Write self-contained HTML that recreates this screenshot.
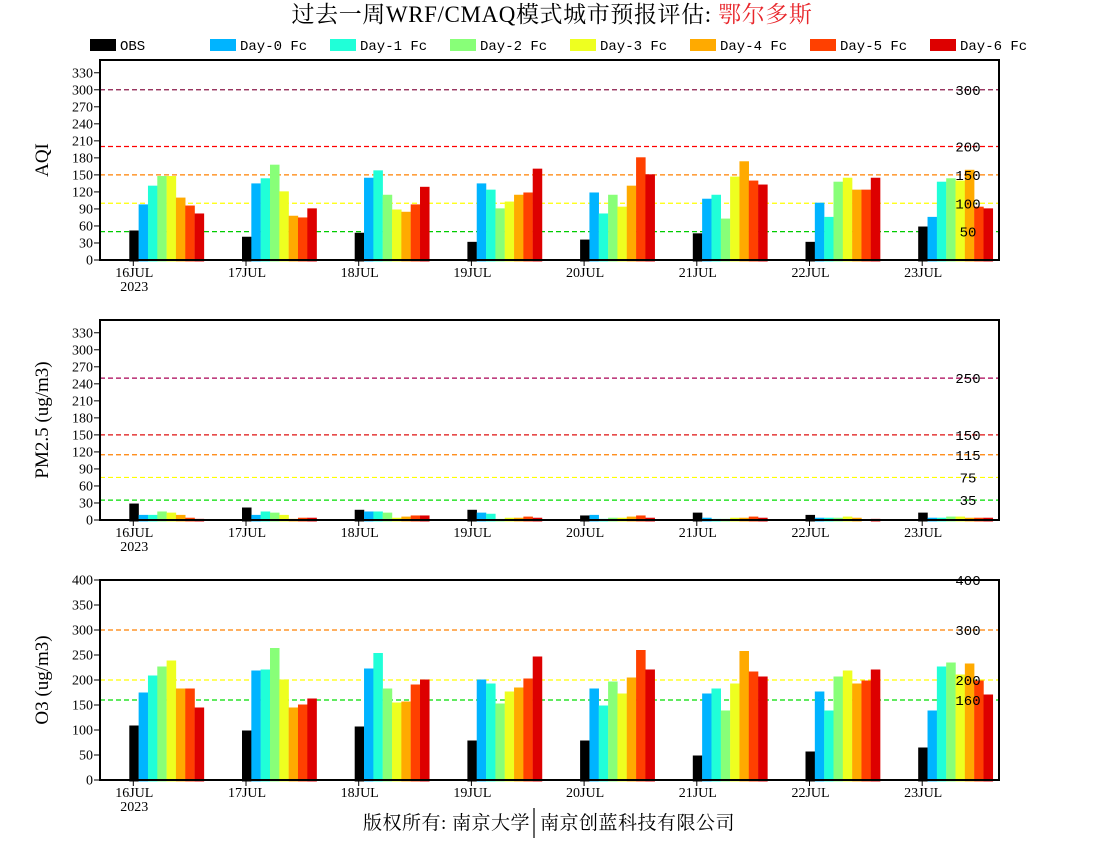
<!DOCTYPE html>
<html><head><meta charset="utf-8">
<style>
body{margin:0;background:#fff;}
svg{display:block;}
text{font-family:"Liberation Serif","Noto Serif CJK SC",serif;}
.mono{font-family:"Liberation Mono","Noto Sans CJK SC",monospace;}
</style></head>
<body>
<svg id="c" width="1100" height="850" xmlns="http://www.w3.org/2000/svg">
<text x="552" y="22" font-size="23" letter-spacing="0.6" text-anchor="middle">过去一周WRF/CMAQ模式城市预报评估: <tspan fill="#e8262b">鄂尔多斯</tspan></text>
<text x="530" y="829" font-size="19" letter-spacing="0.5" text-anchor="end" font-family="'Noto Sans CJK SC',sans-serif">版权所有: 南京大学</text>
<text x="540" y="829" font-size="19" letter-spacing="0.5" text-anchor="start" font-family="'Noto Sans CJK SC',sans-serif">南京创蓝科技有限公司</text>
<line x1="534" y1="808" x2="534" y2="838" stroke="#000" stroke-width="1.2"/>
</svg>
<script>
const days = ['16JUL','17JUL','18JUL','19JUL','20JUL','21JUL','22JUL','23JUL'];
const seriesNames = ['OBS','Day-0 Fc','Day-1 Fc','Day-2 Fc','Day-3 Fc','Day-4 Fc','Day-5 Fc','Day-6 Fc'];
const seriesColors = ['#000000','#00b4ff','#20ffd8','#88ff78','#eeff20','#ffaa00','#ff4000','#dd0000'];
const aqiObs = [52,41,48,32,36,47,32,59];
const aqiD0 = [98,135,145,135,119,108,101,76];
const aqiD1 = [131,144,158,124,82,115,76,138];
const aqiD2 = [148,168,115,91,115,73,138,144];
const aqiD3 = [148,121,89,103,94,147,145,140];
const aqiD4 = [110,78,85,115,131,174,124,159];
const aqiD5 = [96,75,98,119,181,140,124,94];
const aqiD6 = [82,91,129,161,151,133,145,91];
const pmObs = [29,22,18,18,8,13,9,13];
const pmD0 = [9,9,15,13,9,4,4,4];
const pmD1 = [9,15,15,11,2,2,4,4];
const pmD2 = [15,13,13,2,4,2,4,6];
const pmD3 = [13,9,4,4,4,4,6,6];
const pmD4 = [9,2,6,4,6,4,4,4];
const pmD5 = [4,4,8,6,8,6,0,4];
const pmD6 = [2,4,8,4,4,4,2,4];
const o3Obs = [109,99,107,79,79,49,57,65];
const o3D0 = [175,219,223,201,183,173,177,139];
const o3D1 = [209,221,254,193,149,183,139,227];
const o3D2 = [227,264,183,153,197,139,207,235];
const o3D3 = [239,201,155,177,173,193,219,211];
const o3D4 = [183,145,157,185,205,258,193,233];
const o3D5 = [183,151,191,203,260,217,199,199];
const o3D6 = [145,163,201,247,221,207,221,171];
const aqiTicks = [0,30,60,90,120,150,180,210,240,270,300,330];
const pmTicks = [0,30,60,90,120,150,180,210,240,270,300,330];
const o3Ticks = [0,50,100,150,200,250,300,350,400];
const aqiLines = [300,200,150,100,50];
const pmLines = [250,150,115,75,35];
const o3Lines = [400,300,200,160];

const lineColors = {aqi:['#8b1a4a','#ff0000','#ff8000','#ffff00','#00cc00'],
  pm:['#aa0055','#dd1010','#ff8000','#ffff00','#00dd00'],
  o3:['#ff0000','#ff8000','#ffff00','#00dd00']};
const svg = document.getElementById('c');
const NS = 'http://www.w3.org/2000/svg';
function mk(tag, attrs, parent){const e=document.createElementNS(NS,tag);for(const k in attrs)e.setAttribute(k,attrs[k]);(parent||svg).appendChild(e);return e;}
const X0=100, X1=999, tick0=133.3, dayW=112.7, barW=9.33;
function xDay(i){return tick0+i*dayW;}

seriesNames.forEach((n,i)=>{
  const g=mk('g',{});
  
  
  mk('rect',{x:90+i*120,y:39,width:26,height:12,fill:seriesColors[i]},g);
  const t=mk('text',{x:120+i*120,y:50,'font-size':14,class:'mono'},g);
  t.textContent=n;
});

function panel(key, top, maxV, ticks, thr, colors, data, title, showYear){
  const bot=top+200;
  const y=v=>bot-v/maxV*200;
  const g=mk('g',{});
  
  
  thr.forEach((v,i)=>{
    const l=mk('line',{x1:X0,x2:X1,y1:y(v),y2:y(v),stroke:colors[i],'stroke-width':1.2,'stroke-dasharray':'5,3'},g);
    
    
  });
  data.forEach((arr,s)=>{
    arr.forEach((v,i)=>{
      if(v<=0)return;
      const r=mk('rect',{x:xDay(i)-4+s*barW,y:y(v),width:barW+0.2,height:bot-y(v)+1.5,fill:seriesColors[s]},g);
      
      
    });
  });
  thr.forEach(v=>{
    const t=mk('text',{x:968,y:y(v)+5,'font-size':14,'text-anchor':'middle',class:'mono'},g);
    
    
    t.textContent=v;
  });
  const f=mk('rect',{x:X0,y:top,width:X1-X0,height:200,fill:'none',stroke:'#000','stroke-width':2},g);
  
  
  ticks.forEach(v=>{
    mk('line',{x1:94,x2:X0,y1:y(v),y2:y(v),stroke:'#000','stroke-width':1},g);
    const t=mk('text',{x:93,y:y(v)+4.5,'font-size':14,'text-anchor':'end'},g);
    
    
    t.textContent=v;
  });
  days.forEach((d,i)=>{
    mk('line',{x1:xDay(i),x2:xDay(i),y1:bot,y2:bot+6,stroke:'#000','stroke-width':1},g);
    const t=mk('text',{x:xDay(i)+1,y:bot+17,'font-size':14,'text-anchor':'middle'},g);
    
    
    t.textContent=d;
  });
  if(showYear){
    const t=mk('text',{x:xDay(0)+1,y:bot+31,'font-size':14,'text-anchor':'middle'},g);
    
    
    t.textContent='2023';
  }
  const yt=mk('text',{x:48,y:top+100,'font-size':19,'text-anchor':'middle',transform:'rotate(-90 48 '+(top+100)+')'},g);
  
  
  yt.textContent=title;
}
panel('aqi',60,352.5,aqiTicks,aqiLines,lineColors.aqi,[aqiObs,aqiD0,aqiD1,aqiD2,aqiD3,aqiD4,aqiD5,aqiD6],'AQI',true);
panel('pm25',320,352.5,pmTicks,pmLines,lineColors.pm,[pmObs,pmD0,pmD1,pmD2,pmD3,pmD4,pmD5,pmD6],'PM2.5 (ug/m3)',true);
panel('o3',580,400,o3Ticks,o3Lines,lineColors.o3,[o3Obs,o3D0,o3D1,o3D2,o3D3,o3D4,o3D5,o3D6],'O3 (ug/m3)',true);
</script>
</body></html>
